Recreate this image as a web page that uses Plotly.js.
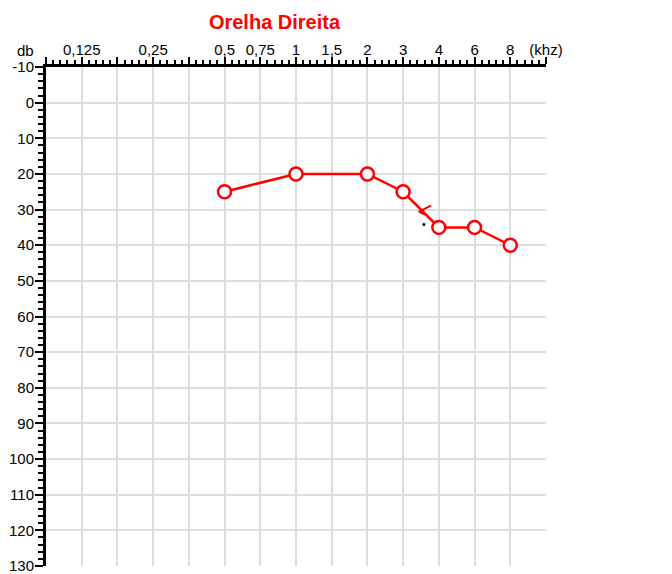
<!DOCTYPE html>
<html>
<head>
<meta charset="utf-8">
<script src="https://cdn.plot.ly/plotly-3.0.1.min.js"></script>
<style>html,body{margin:0;padding:0;background:#fff;}#chart{width:672px;height:574px;}</style>
</head>
<body>
<div id="chart"></div>
<script>
// Frequency axis labels (one per grid column), kHz
const freqLabels = ['', '0,125', '', '0,25', '', '0,5', '0,75', '1', '1,5', '2', '3', '4', '6', '8', '(khz)'];
// Hearing level tick values, dB
const dbTicks = [-10, 0, 10, 20, 30, 40, 50, 60, 70, 80, 90, 100, 110, 120, 130];
// Right ear air conduction thresholds
const testFreqs = ['0,5', '1', '2', '3', '4', '6', '8'];
const thresholds = [25, 20, 20, 25, 35, 35, 40];
// Extra marks between 3 and 4 kHz (column position, dB): "<" stroke and dot
const maskX = [10.78, 10.44, 10.62];
const maskY = [28.9, 30.6, 31.5];
const dotX = [10.58];
const dotY = [34.2];

const tickPos = freqLabels.map((_, i) => i);
const xVals = testFreqs.map(f => freqLabels.indexOf(f));

const fontFam = '"Liberation Sans", Arial, Helvetica, sans-serif';

const traces = [
  {
    x: maskX, y: maskY, type: 'scatter', mode: 'lines',
    line: {color: '#ff0000', width: 2},
    showlegend: false, hoverinfo: 'skip'
  },
  {
    x: xVals, y: thresholds, type: 'scatter', mode: 'lines+markers',
    line: {color: '#ff0000', width: 2.5},
    marker: {symbol: 'circle', size: 13, color: '#ffffff', line: {color: '#ff0000', width: 2.5}},
    hoverinfo: 'x+y', showlegend: false, cliponaxis: false
  },
  {
    x: dotX, y: dotY, type: 'scatter', mode: 'markers',
    marker: {symbol: 'circle', size: 3, color: '#000000'},
    showlegend: false, hoverinfo: 'skip'
  }
];

const layout = {
  width: 672, height: 574,
  margin: {l: 46, r: 126, t: 67, b: 8, pad: 0},
  paper_bgcolor: '#ffffff', plot_bgcolor: '#ffffff',
  font: {family: fontFam, size: 15, color: '#000000'},
  showlegend: false,
  title: {
    text: 'Orelha Direita',
    font: {family: fontFam, size: 20, color: '#ff0000', weight: 'bold'},
    xref: 'container', yref: 'container',
    x: 274.5 / 672, y: 1 - 22 / 574, xanchor: 'center', yanchor: 'middle'
  },
  xaxis: {
    side: 'top', range: [0, 14], autorange: false, fixedrange: true,
    tickmode: 'array', tickvals: tickPos, ticktext: freqLabels,
    ticks: 'outside', ticklen: 7, tickwidth: 2, tickcolor: '#000',
    showline: true, linewidth: 3, linecolor: '#000',
    showgrid: true, gridcolor: '#dddddd', gridwidth: 2,
    zeroline: false, ticklabelstandoff: -4, ticklabeloverflow: 'allow',
    tickfont: {family: fontFam, size: 15, color: '#000'},
    minor: {tickmode: 'linear', tick0: 0, dtick: 0.2, ticks: 'outside', ticklen: 4, tickwidth: 2, tickcolor: '#000', showgrid: false}
  },
  yaxis: {
    range: [130, -10], autorange: false, fixedrange: true,
    tickmode: 'array', tickvals: dbTicks, ticktext: dbTicks.map(String),
    ticks: 'outside', ticklen: 8, tickwidth: 2, tickcolor: '#000',
    showline: true, linewidth: 3, linecolor: '#000',
    showgrid: true, gridcolor: '#dddddd', gridwidth: 2,
    zeroline: false, ticklabelstandoff: -2, ticklabeloverflow: 'allow',
    tickfont: {family: fontFam, size: 15, color: '#000'},
    minor: {tickmode: 'linear', tick0: -10, dtick: 2, ticks: 'outside', ticklen: 5, tickwidth: 2, tickcolor: '#000', showgrid: false}
  },
  annotations: [
    {
      text: 'db', xref: 'paper', yref: 'paper',
      x: (25 - 46) / 500, y: (566 - 51) / 499,
      xanchor: 'center', yanchor: 'middle', showarrow: false,
      font: {family: fontFam, size: 15, color: '#000'}
    }
  ]
};

Plotly.newPlot('chart', traces, layout, {displayModeBar: false, staticPlot: true});
</script>
</body>
</html>
